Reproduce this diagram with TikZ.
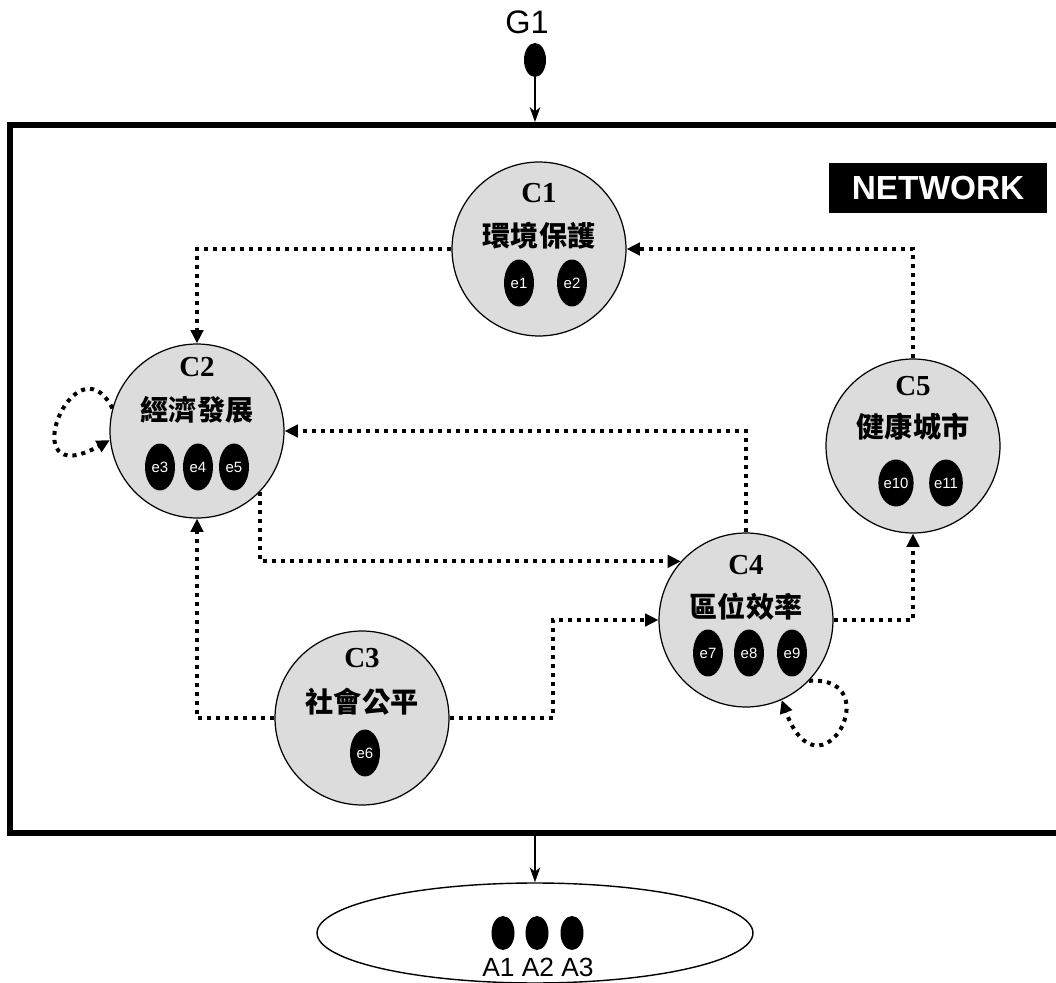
\documentclass[tikz,border=0pt]{standalone}
\usepackage{fontspec}
\setmainfont{Liberation Serif}
\setsansfont{Liberation Sans}
\newfontfamily\cjk{Noto Sans CJK TC}
\usetikzlibrary{arrows.meta,shapes.geometric}
\definecolor{cgray}{RGB}{220,220,220}
\begin{document}
\begin{tikzpicture}[x=0.02cm,y=-0.02cm,
  circ/.style={circle,draw=black,fill=cgray,line width=0.7pt,minimum size=3.48cm,inner sep=0pt},
  edot/.style={ellipse,fill=black,minimum width=0.6cm,minimum height=0.94cm,inner sep=0pt,text=white,font=\sffamily\fontsize{8.5}{9}\selectfont},
  adot/.style={ellipse,fill=black,minimum width=0.46cm,minimum height=0.68cm,inner sep=0pt},
  ttl/.style={font=\bfseries\fontsize{16.5}{18}\selectfont,inner sep=0pt},
  zh/.style={font=\cjk\bfseries\fontsize{16}{18}\selectfont,inner sep=0pt},
  flow/.style={line width=2.28pt,dash pattern=on 2.28pt off 2.85pt,-{Triangle[length=7.5pt,width=7pt]}},
  solidarrow/.style={line width=1.1pt,-{Stealth[length=8.5pt,width=6pt,inset=2.5pt]}},
]
\useasboundingbox (0,0) rectangle (1056,983);

% network box
\node[draw=black,line width=3.4pt,minimum width=21.2cm,minimum height=14.16cm,inner sep=0pt] (net) at (540,479) {};
\node[fill=black,text=white,font=\sffamily\bfseries\fontsize{19}{20}\selectfont,minimum width=4.36cm,minimum height=1.0cm,inner sep=0pt] (netlbl) at (938,188) {NETWORK};

% G1
\node[font=\sffamily\fontsize{18.5}{20}\selectfont,inner sep=0pt] (g1t) at (527,22) {G1};
\node[adot,minimum width=0.44cm] (g1) at (535,60) {};
\draw[solidarrow] (g1.south) -- (g1.south |- net.north);

% circles
\node[circ] (c1) at (539,249) {};
\node[circ] (c2) at (197,431) {};
\node[circ] (c3) at (362,718) {};
\node[circ] (c4) at (746,620) {};
\node[circ] (c5) at (913,446) {};

% titles
\node[ttl] (t1) at (539,193) {C1};
\node[zh]  (z1) at (539,236) {環境保護};
\node[edot] (e1) at (519,283) {e1};
\node[edot] (e2) at (572,283) {e2};

\node[ttl] (t2) at (197,367) {C2};
\node[zh]  (z2) at (197,410) {經濟發展};
\node[edot] (e3) at (160,467) {e3};
\node[edot] (e4) at (198,467) {e4};
\node[edot] (e5) at (234,467) {e5};

\node[ttl] (t3) at (362,658) {C3};
\node[zh]  (z3) at (362,702) {社會公平};
\node[edot] (e6) at (365,753) {e6};

\node[ttl] (t4) at (746,565) {C4};
\node[zh]  (z4) at (746,607) {區位效率};
\node[edot] (e7) at (708,653) {e7};
\node[edot] (e8) at (749,653) {e8};
\node[edot] (e9) at (792,653) {e9};

\node[ttl] (t5) at (913,386) {C5};
\node[zh]  (z5) at (913,427) {健康城市};
\node[edot] (e10) at (896,483) {e10};
\node[edot] (e11) at (946,483) {e11};

% connectors
\draw[flow] (c1.west) -| (c2.north);
\draw[flow] (c5.north) |- (c1.east);
\draw[flow] (c4.north) |- (c2.east);
\draw[flow] (c2.-44) |- (c4.138);
\draw[flow] (c3.west) -| (c2.south);
\coordinate (m34) at (553,718);
\draw[flow] (c3.east) -- (m34) |- (c4.west);
\draw[flow] (c4.east) -| (c5.south);
\draw[flow] (c2.165) .. controls (75,335) and (10,495) .. (c2.186);
\draw[flow] (c4.-44) .. controls (890,675) and (820,805) .. (c4.-66);

% output ellipse
\node[ellipse,draw=black,line width=0.8pt,minimum width=8.72cm,minimum height=2cm,inner sep=0pt] (aell) at (535,933) {};
\draw[solidarrow] (aell.north |- net.south) -- (aell.north);
\node[adot] (a1) at (503,933) {};
\node[adot] (a2) at (537,933) {};
\node[adot] (a3) at (572,933) {};
\node[font=\sffamily\fontsize{15}{16}\selectfont,inner sep=0pt] (alab) at (538,967) {A1 A2 A3};
\end{tikzpicture}
\end{document}
